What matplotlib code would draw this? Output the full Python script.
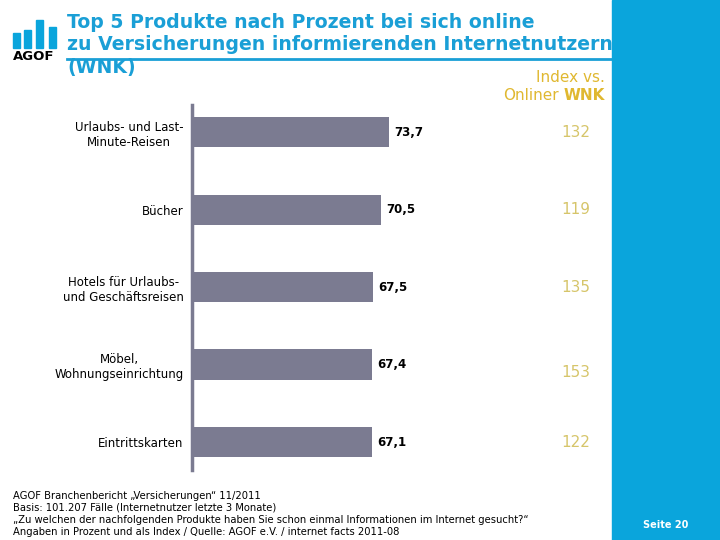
import matplotlib
matplotlib.use("Agg")
import matplotlib.pyplot as plt
from matplotlib.patches import Rectangle

# Daten
kategorien = ["Urlaubs- und Last-\nMinute-Reisen", "Bücher",
              "Hotels für Urlaubs-\nund Geschäftsreisen",
              "Möbel,\nWohnungseinrichtung", "Eintrittskarten"]
prozent = [73.7, 70.5, 67.5, 67.4, 67.1]
index_wnk = [132, 119, 135, 153, 122]

blau = '#0aa5dc'
titel_blau = '#1a9fd6'
gold = '#e0b830'
index_gold = '#d6c56a'
balken_grau = '#7b7b91'

fig = plt.figure(figsize=(7.2, 5.4), dpi=100)
W, H = 720.0, 540.0


def fx(x):
    return x / W


def fy(y):
    return 1 - y / H


# Diagramm
ax = fig.add_axes([fx(192), fy(470), 420 / W, 365 / H])
pos = list(range(len(prozent)))
ax.barh(pos, prozent, height=0.39, color=balken_grau, align='center')
ax.set_xlim(0, 157)
ax.set_ylim(4.36, -0.35)
ax.set_yticks(pos)
ax.set_yticklabels(kategorien, fontsize=8.5, multialignment='center')
ax.tick_params(axis='y', length=0, pad=6)
ax.set_xticks([])
for s in ['top', 'right', 'bottom']:
    ax.spines[s].set_visible(False)
ax.spines['left'].set_color(balken_grau)
ax.spines['left'].set_linewidth(2.5)

for i, v in enumerate(prozent):
    ax.text(v + 2, i, ('%.1f' % v).replace('.', ','), va='center', ha='left',
            fontsize=8.5, fontweight='bold', color='black')
    ax.text(143.5, i + (0.1 if i == 3 else 0), str(index_wnk[i]), va='center',
            ha='center', fontsize=11, color=index_gold)

# Titel
titel = ["Top 5 Produkte nach Prozent bei sich online",
         "zu Versicherungen informierenden Internetnutzern",
         "(WNK)"]
for k, t in enumerate(titel):
    fig.text(fx(67), fy(22 + 23 * k), t, fontsize=13.6, fontweight='bold',
             color=titel_blau, va='center', ha='left')
fig.add_artist(plt.Line2D([fx(67), fx(612)], [fy(59), fy(59)],
                          color=titel_blau, lw=2))

# Index Kopf
fig.text(fx(605), fy(78), "Index vs.", fontsize=11, color=gold,
         ha='right', va='center')
fig.text(fx(605), fy(95), "WNK", fontsize=11, color=gold,
         ha='right', va='center', fontweight='bold')
fig.text(fx(559), fy(95), "Onliner", fontsize=11, color=gold,
         ha='right', va='center')

# Logo
logo_x = [13, 24, 36, 49]
logo_top = [33, 30, 20, 27]
for lx, lt in zip(logo_x, logo_top):
    fig.add_artist(Rectangle((fx(lx), fy(48)), 7 / W, (48 - lt) / H,
                             color=blau, transform=fig.transFigure))
fig.text(fx(34), fy(56), "AGOF", fontsize=9.5, fontweight='bold',
         color='black', ha='center', va='center')

# Fußnote
fussnote = ["AGOF Branchenbericht \u201eVersicherungen\u201c 11/2011",
            "Basis: 101.207 Fälle (Internetnutzer letzte 3 Monate)",
            "\u201eZu welchen der nachfolgenden Produkte haben Sie schon einmal Informationen im Internet gesucht?\u201c",
            "Angaben in Prozent und als Index / Quelle: AGOF e.V. / internet facts 2011-08"]
for k, t in enumerate(fussnote):
    fig.text(fx(13), fy(496 + 12 * k), t, fontsize=7.2, color='black',
             ha='left', va='center')

# blaues Feld rechts
fig.add_artist(Rectangle((fx(612), 0), 108 / W, 1, color=blau,
                         transform=fig.transFigure, zorder=10))
fig.text(fx(666), fy(525), "Seite 20", fontsize=7, fontweight='bold',
         color='white', ha='center', va='center', zorder=11)

fig.savefig('out.png', dpi=100)
